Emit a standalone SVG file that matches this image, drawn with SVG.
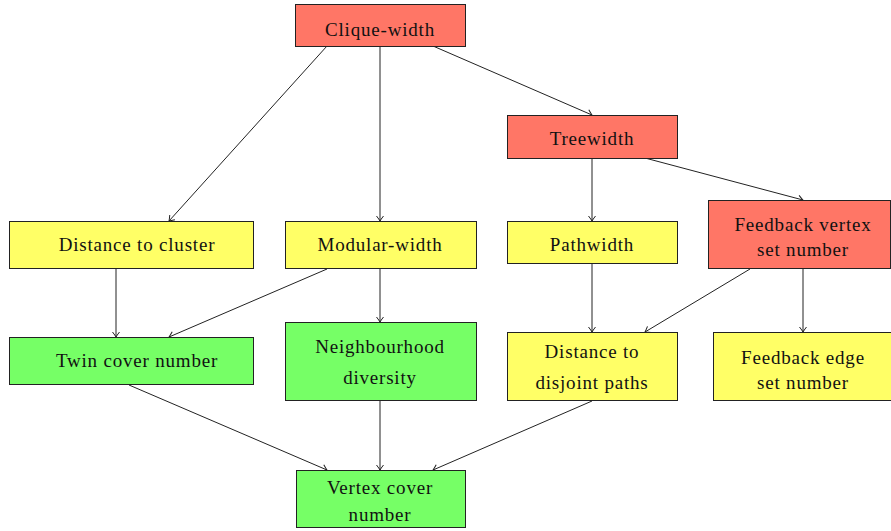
<svg xmlns="http://www.w3.org/2000/svg" width="891" height="531" viewBox="0 0 891 531">
<defs>
<style>
.box{stroke:#222;stroke-width:1}
.red{fill:#ff7666}
.yel{fill:#ffff66}
.grn{fill:#76ff66}
text{font-family:"Liberation Serif","DejaVu Serif",serif;font-size:19px;letter-spacing:0.8px;fill:#111;text-anchor:middle}
.e{stroke:#222;stroke-width:1;fill:none;marker-end:url(#arr)}
</style>
<marker id="arr" markerWidth="10" markerHeight="10" refX="0" refY="0" viewBox="-6 -5 8 10" orient="auto" markerUnits="userSpaceOnUse">
<path d="M -5 -3.5 Q -1.5 -0.8 0 0 Q -1.5 0.8 -5 3.5" fill="none" stroke="#222" stroke-width="1"/>
</marker>
</defs>
<rect width="891" height="531" fill="#fff"/>
<g id="connectors">
<line class="e" x1="327" y1="46" x2="169" y2="221"/>
<line class="e" x1="380" y1="46" x2="380" y2="221"/>
<line class="e" x1="433" y1="46" x2="592" y2="115"/>
<line class="e" x1="592" y1="158" x2="592" y2="221"/>
<line class="e" x1="645" y1="158" x2="803" y2="200"/>
<line class="e" x1="116" y1="269" x2="116" y2="337"/>
<line class="e" x1="327" y1="269" x2="169" y2="337"/>
<line class="e" x1="380" y1="269" x2="380" y2="322"/>
<line class="e" x1="592" y1="264" x2="592" y2="332"/>
<line class="e" x1="750" y1="269" x2="645" y2="332"/>
<line class="e" x1="803" y1="269" x2="803" y2="332"/>
<line class="e" x1="129" y1="385" x2="327" y2="470"/>
<line class="e" x1="380" y1="401" x2="380" y2="470"/>
<line class="e" x1="592" y1="401" x2="433" y2="470"/>
</g>
<g id="clique-width"><rect class="box red" x="295.5" y="4.5" width="170" height="42"/><text x="380" y="36">Clique-width</text></g>
<g id="treewidth"><rect class="box red" x="507.5" y="115.5" width="170" height="43"/><text x="592" y="145">Treewidth</text></g>
<g id="distance-to-cluster"><rect class="box yel" x="9.5" y="221.5" width="244" height="47"/><text x="137" y="251">Distance to cluster</text></g>
<g id="modular-width"><rect class="box yel" x="285.5" y="221.5" width="191" height="47"/><text x="380" y="251">Modular-width</text></g>
<g id="pathwidth"><rect class="box yel" x="507.5" y="221.5" width="170" height="42"/><text x="592" y="251">Pathwidth</text></g>
<g id="feedback-vertex-set-number"><rect class="box red" x="708.5" y="200.5" width="182" height="68"/><text x="803" y="231">Feedback vertex</text><text x="803" y="256">set number</text></g>
<g id="twin-cover-number"><rect class="box grn" x="9.5" y="337.5" width="244" height="47"/><text x="137" y="367">Twin cover number</text></g>
<g id="neighbourhood-diversity"><rect class="box grn" x="285.5" y="322.5" width="191" height="78"/><text x="380" y="353">Neighbourhood</text><text x="380" y="384">diversity</text></g>
<g id="distance-to-disjoint-paths"><rect class="box yel" x="507.5" y="332.5" width="170" height="68"/><text x="592" y="358">Distance to</text><text x="592" y="389">disjoint paths</text></g>
<g id="feedback-edge-set-number"><rect class="box yel" x="713.5" y="332.5" width="178" height="68"/><text x="803" y="364">Feedback edge</text><text x="803" y="389">set number</text></g>
<g id="vertex-cover-number"><rect class="box grn" x="296.5" y="470.5" width="169" height="57"/><text x="380" y="494">Vertex cover</text><text x="380" y="521">number</text></g>
</svg>
